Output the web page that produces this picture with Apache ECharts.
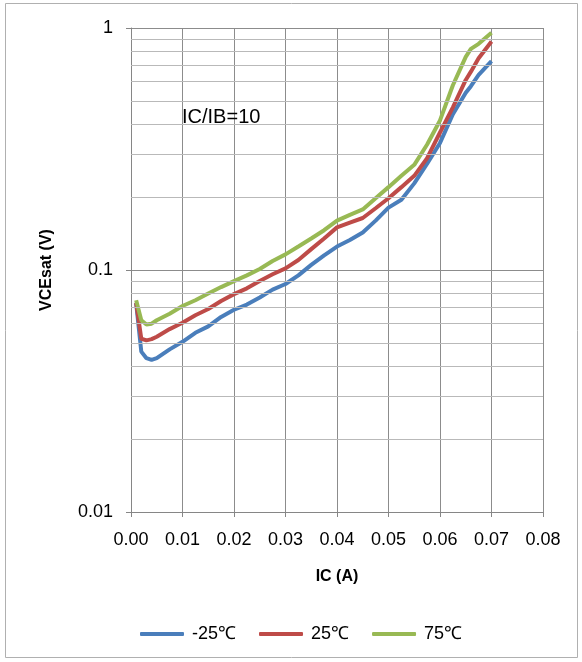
<!DOCTYPE html>
<html>
<head>
<meta charset="utf-8">
<script src="https://cdn.jsdelivr.net/npm/echarts@6/dist/echarts.min.js"></script>
<style>
html,body{margin:0;padding:0;background:#fff;}
#chart{width:582px;height:662px;}
</style>
</head>
<body>
<div id="chart"></div>
<script>
const xValues = [0.001,0.002,0.003,0.004,0.005,0.0075,0.01,0.0125,0.015,0.0175,0.02,0.0225,0.025,0.0275,0.03,0.0325,0.035,0.0375,0.04,0.0425,0.045,0.0475,0.05,0.0525,0.055,0.0575,0.06,0.0625,0.065,0.066,0.0675,0.07];
const seriesNames = ['-25℃','25℃','75℃'];
const vMinus25 = [0.073,0.046,0.0432,0.0425,0.0432,0.047,0.0505,0.055,0.0585,0.064,0.0685,0.072,0.077,0.083,0.0875,0.095,0.105,0.115,0.125,0.133,0.143,0.160,0.181,0.195,0.228,0.275,0.335,0.44,0.54,0.575,0.64,0.73];
const v25 = [0.073,0.052,0.0512,0.0518,0.053,0.057,0.0605,0.065,0.069,0.0745,0.0795,0.084,0.090,0.096,0.1015,0.110,0.122,0.135,0.150,0.157,0.164,0.180,0.198,0.220,0.245,0.29,0.37,0.47,0.61,0.66,0.75,0.88];
const v75 = [0.075,0.062,0.0595,0.060,0.062,0.066,0.071,0.075,0.080,0.085,0.090,0.095,0.101,0.109,0.116,0.125,0.135,0.146,0.160,0.169,0.178,0.198,0.220,0.245,0.272,0.33,0.415,0.58,0.76,0.82,0.86,0.955];
const minorGrid = [0.02,0.03,0.04,0.05,0.06,0.07,0.08,0.09,0.2,0.3,0.4,0.5,0.6,0.7,0.8,0.9];
const annotation = 'IC/IB=10';
const xName = 'IC (A)';
const yName = 'VCEsat (V)';
const colors = ['#4a7ebb','#be4b48','#98b954'];

const font = 'Liberation Sans, Arial, sans-serif';
const chart = echarts.init(document.getElementById('chart'));
const allValues = [vMinus25, v25, v75];
const dataSeries = allValues.map((vals, i) => ({
  name: seriesNames[i],
  type: 'line',
  z: 3,
  showSymbol: false,
  symbol: 'none',
  lineStyle: {width: 4, color: colors[i]},
  itemStyle: {color: colors[i]},
  data: xValues.map((x, j) => [x, vals[j]])
}));
dataSeries.unshift({
  type: 'line',
  z: 1,
  data: [],
  silent: true,
  markLine: {
    silent: true,
    symbol: 'none',
    label: {show: false},
    lineStyle: {color: '#b9b9b9', width: 1, type: 'solid'},
    animation: false,
    data: minorGrid.map(v => ({yAxis: v}))
  }
});

chart.setOption({
  animation: false,
  backgroundColor: '#fff',
  textStyle: {fontFamily: font},
  graphic: [
    {type: 'rect', shape: {x: 5.5, y: 3.5, width: 572, height: 654}, style: {fill: 'none', stroke: '#b0b0b0', lineWidth: 1}, z: 0},
    {type: 'text', left: 182, top: 107, style: {text: annotation, font: '20px ' + font, fill: '#000'}, z: 10}
  ],
  grid: {left: 131, right: 39, top: 28, bottom: 150, containLabel: false},
  legend: {
    top: 620,
    left: 135,
    itemWidth: 44,
    itemHeight: 4,
    itemGap: 23,
    icon: 'roundRect',
    data: seriesNames,
    textStyle: {fontSize: 18, color: '#000', fontFamily: font, padding: [0, 0, 0, 3]}
  },
  xAxis: {
    type: 'value',
    min: 0,
    max: 0.08,
    interval: 0.01,
    name: xName,
    nameLocation: 'middle',
    nameGap: 57,
    nameTextStyle: {fontSize: 16, fontWeight: 'bold', color: '#000'},
    axisLine: {show: true, lineStyle: {color: '#868686'}},
    axisTick: {show: true, length: 5, lineStyle: {color: '#868686'}},
    axisLabel: {margin: 19, fontSize: 18, color: '#000', formatter: v => v.toFixed(2)},
    splitLine: {show: true, lineStyle: {color: '#8c8c8c', width: 1}}
  },
  yAxis: {
    type: 'log',
    logBase: 10,
    min: 0.01,
    max: 1,
    name: yName,
    nameLocation: 'middle',
    nameGap: 76,
    nameTextStyle: {fontSize: 16, fontWeight: 'bold', color: '#000'},
    axisLine: {show: true, lineStyle: {color: '#868686'}},
    axisTick: {show: true, length: 5, lineStyle: {color: '#868686'}},
    axisLabel: {margin: 18, fontSize: 18, color: '#000', formatter: v => (v >= 1 ? '1' : (v >= 0.1 ? '0.1' : '0.01'))},
    splitLine: {show: true, lineStyle: {color: '#8c8c8c', width: 1}}
  },
  series: dataSeries
});
</script>
</body>
</html>
